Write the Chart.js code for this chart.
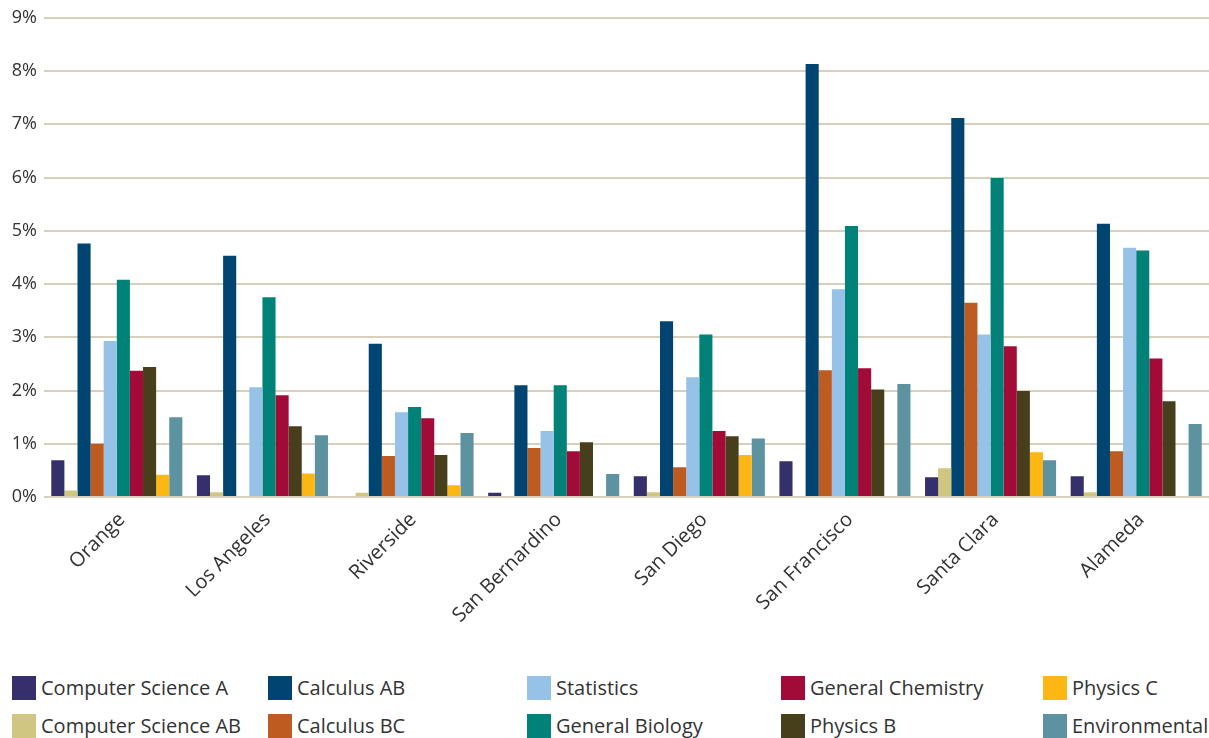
<!DOCTYPE html>
<html>
<head>
<meta charset="utf-8">
<script src="https://cdn.jsdelivr.net/npm/chart.js@4"></script>
<style>
  body { margin: 0; background: #fff; font-family: "Open Sans", sans-serif; }
  #wrap { position: relative; width: 1209px; height: 660px; }
  #leyenda { position: absolute; left: 0; top: 676px; width: 1209px; height: 62px; }
  .item { position: absolute; display: flex; align-items: center; height: 24px; font-size: 20px; line-height: 24px; color: #333; white-space: nowrap; }
  .item span.caja { width: 24px; height: 24px; margin-right: 5px; }
</style>
</head>
<body>
<div id="wrap"><canvas id="graficoCondados"></canvas></div>
<div id="leyenda"></div>
<script>
// DATOS
var condados = ['Orange', 'Los Angeles', 'Riverside', 'San Bernardino', 'San Diego', 'San Francisco', 'Santa Clara', 'Alameda'];
var yTicks = [0, 1, 2, 3, 4, 5, 6, 7, 8, 9];

var computerScienceA  = [0.69, 0.41, 0,    0.08, 0.39, 0.67, 0.37, 0.39];
var computerScienceAB = [0.12, 0.09, 0.08, 0,    0.09, 0,    0.54, 0.09];
var calculusAB        = [4.76, 4.53, 2.88, 2.10, 3.30, 8.13, 7.12, 5.13];
var calculusBC        = [1.00, 0,    0.77, 0.92, 0.56, 2.38, 3.65, 0.86];
var statistics        = [2.93, 2.06, 1.59, 1.24, 2.25, 3.90, 3.05, 4.68];
var generalBiology    = [4.08, 3.75, 1.69, 2.10, 3.05, 5.09, 5.99, 4.63];
var generalChemistry  = [2.37, 1.91, 1.48, 0.86, 1.24, 2.42, 2.83, 2.60];
var physicsB          = [2.44, 1.33, 0.79, 1.03, 1.14, 2.02, 1.99, 1.80];
var physicsC          = [0.42, 0.44, 0.22, 0,    0.79, 0,    0.84, 0];
var environmental     = [1.50, 1.16, 1.20, 0.43, 1.10, 2.12, 0.69, 1.37];

var series = [
  { label: 'Computer Science A',  data: computerScienceA,  color: '#35306b' },
  { label: 'Computer Science AB', data: computerScienceAB, color: '#d0c682' },
  { label: 'Calculus AB',         data: calculusAB,        color: '#004471' },
  { label: 'Calculus BC',         data: calculusBC,        color: '#be5b20' },
  { label: 'Statistics',          data: statistics,        color: '#96c2e8' },
  { label: 'General Biology',     data: generalBiology,    color: '#008279' },
  { label: 'General Chemistry',   data: generalChemistry,  color: '#a20b37' },
  { label: 'Physics B',           data: physicsB,          color: '#473f1c' },
  { label: 'Physics C',           data: physicsC,          color: '#fdb714' },
  { label: 'Environmental',       data: environmental,     color: '#5d92a0' }
];

// orden de la leyenda (columnas de 2 filas)
var leyendaOrden = [
  ['Computer Science A', 12, 0], ['Computer Science AB', 12, 1],
  ['Calculus AB', 268, 0], ['Calculus BC', 268, 1],
  ['Statistics', 527, 0], ['General Biology', 527, 1],
  ['General Chemistry', 781, 0], ['Physics B', 781, 1],
  ['Physics C', 1043, 0], ['Environmental', 1043, 1]
];

function dibujarLeyenda() {
  var cont = document.getElementById('leyenda');
  for (var i = 0; i < leyendaOrden.length; i++) {
    var s = series.find(function (x) { return x.label === leyendaOrden[i][0]; });
    var div = document.createElement('div');
    div.className = 'item';
    div.style.left = leyendaOrden[i][1] + 'px';
    div.style.top = (leyendaOrden[i][2] * 38) + 'px';
    div.innerHTML = '<span class="caja" style="background:' + s.color + '"></span>' + s.label;
    cont.appendChild(div);
  }
}

function grafico(ctxRef) {
  var chart = new Chart(ctxRef, {
    type: 'bar',
    data: {
      labels: condados,
      datasets: series.map(function (s) {
        return { label: s.label, data: s.data, backgroundColor: s.color, borderWidth: 0 };
      })
    },
    options: {
      responsive: true,
      maintainAspectRatio: false,
      animation: false,
      layout: { padding: { top: 8, right: 0, left: 0, bottom: 0 } },
      datasets: { bar: { categoryPercentage: 0.9, barPercentage: 1.0 } },
      plugins: { legend: { display: false }, tooltip: { enabled: false } },
      scales: {
        x: {
          grid: { display: false },
          border: { display: false },
          ticks: {
            maxRotation: 45, minRotation: 45,
            labelOffset: 5,
            color: '#333',
            font: { family: 'Open Sans', size: 20 }
          },
          afterFit: function (axis) { axis.height = 163; }
        },
        y: {
          min: 0, max: 9,
          afterBuildTicks: function (axis) { axis.ticks = yTicks.map(function (v) { return { value: v }; }); },
          grid: { color: '#d9d0bb', lineWidth: 2, drawTicks: false },
          border: { display: false },
          ticks: {
            padding: 7,
            color: '#333',
            font: { family: 'Open Sans', size: 18 },
            callback: function (v) { return v + '%'; }
          },
          afterFit: function (axis) { axis.width = 44; }
        }
      }
    }
  });
  return chart;
}

dibujarLeyenda();
var ctx = document.getElementById('graficoCondados').getContext('2d');
grafico(ctx);
</script>
</body>
</html>
